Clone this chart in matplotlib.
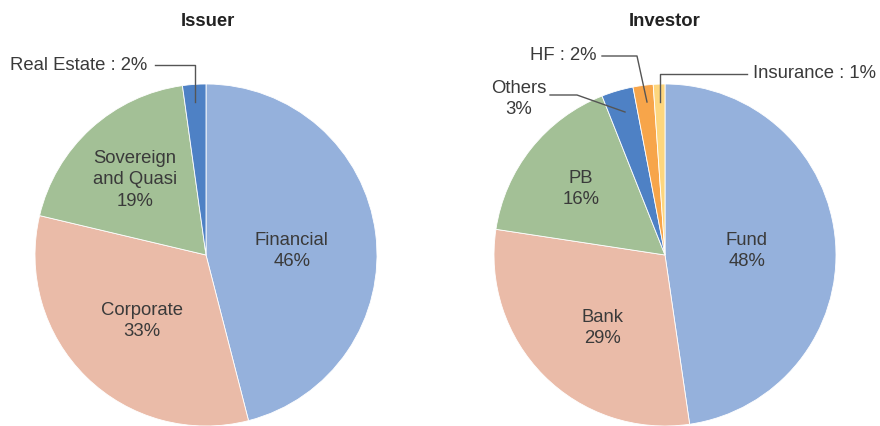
import numpy as np
import matplotlib
matplotlib.use("Agg")
import matplotlib.pyplot as plt

plt.rcParams['font.family'] = ['Liberation Sans', 'DejaVu Sans']

# Data
issuer_labels = ["Financial\n46%", "Corporate\n33%", "Sovereign\nand Quasi\n19%", "Real Estate : 2%"]
issuer_values = [46.0, 32.7, 19.1, 2.2]
issuer_colors = ["#95b1dc", "#eabba8", "#a3c096", "#4e81c5"]

investor_labels = ["Fund\n48%", "Bank\n29%", "PB\n16%", "Others\n3%", "HF : 2%", "Insurance : 1%"]
investor_values = [47.7, 29.7, 16.6, 3.0, 1.9, 1.1]
investor_colors = ["#95b1dc", "#eabba8", "#a3c096", "#4e81c5", "#f7a54a", "#fdd67e"]

W, H = 880, 426
fig = plt.figure(figsize=(W / 100, H / 100), dpi=100)
ax = fig.add_axes([0, 0, 1, 1])

TXT = "#3a3a3a"
LINE = "#555555"
R = 171
FS = 13.3


def py(y):
    return H - y


def draw_pie(values, colors, center):
    wedges, _ = ax.pie(values, colors=colors, startangle=90, counterclock=False,
                       radius=R, center=center, frame=True,
                       wedgeprops=dict(linewidth=0.6, edgecolor="white"))
    return wedges


def inner_label(wedge, text, frac, dang, center):
    ang = np.deg2rad((wedge.theta1 + wedge.theta2) / 2 + dang)
    x = center[0] + R * frac * np.cos(ang)
    y = center[1] + R * frac * np.sin(ang)
    ax.text(x, y, text, ha='center', va='center', fontsize=FS, color=TXT,
            linespacing=1.35)


c1 = (206, py(255))
c2 = (665, py(255))
w1 = draw_pie(issuer_values, issuer_colors, c1)
w2 = draw_pie(investor_values, investor_colors, c2)
ax.set_xlim(0, W)
ax.set_ylim(0, H)
ax.set_aspect('auto')
ax.axis('off')

for w, t, f, d in zip(w1[:3], issuer_labels[:3], [0.503, 0.537, 0.604], [-4.5, 0.4, 1.1]):
    inner_label(w, t, f, d, c1)
for w, t, f, d in zip(w2[:3], investor_labels[:3], [0.48, 0.564, 0.625], [-1.3, 4.4, 0.3]):
    inner_label(w, t, f, d, c2)

# Titles
ax.text(208, py(22), "Issuer", ha='center', va='center', fontsize=FS,
        fontweight='bold', color="#222222")
ax.text(665, py(22), "Investor", ha='center', va='center', fontsize=FS,
        fontweight='bold', color="#222222")

# Outside labels with leader lines
lw = 1.0
ax.text(10, py(65), issuer_labels[3], ha='left', va='center', fontsize=FS, color=TXT)
ax.plot([155, 195, 195], [py(65), py(65), py(102)], color=LINE, lw=lw)

ax.text(519, py(99), investor_labels[3], ha='center', va='center', fontsize=FS,
        color=TXT, linespacing=1.35)
ax.plot([550, 577, 625], [py(95), py(95), py(112)], color=LINE, lw=lw)

ax.text(596, py(56), investor_labels[4], ha='right', va='center', fontsize=FS, color=TXT)
ax.plot([602, 637, 647], [py(56), py(56), py(102)], color=LINE, lw=lw)

ax.text(753, py(74), investor_labels[5], ha='left', va='center', fontsize=FS, color=TXT)
ax.plot([747, 660, 660], [py(74), py(74), py(102)], color=LINE, lw=lw)

fig.savefig("out.png", dpi=100, facecolor="white")
